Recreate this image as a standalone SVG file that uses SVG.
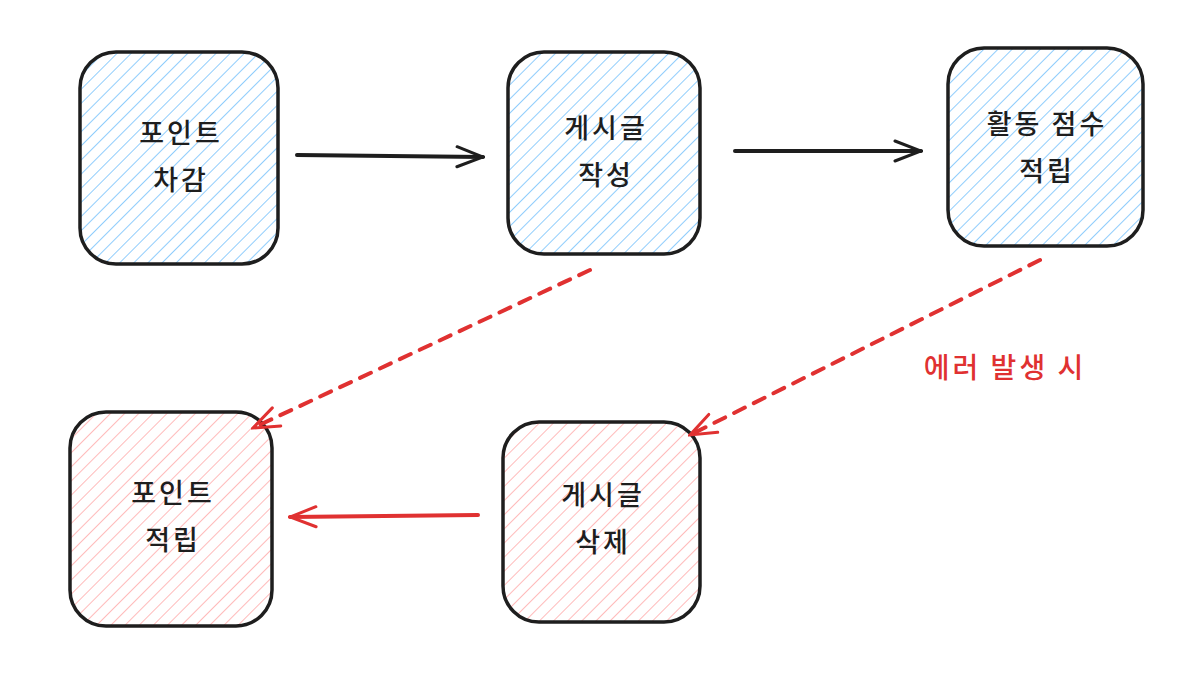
<svg xmlns="http://www.w3.org/2000/svg" width="1200" height="676" viewBox="0 0 1200 676">
<defs>
<pattern id="hb" width="10" height="10" patternUnits="userSpaceOnUse" patternTransform="rotate(45)"><line x1="0" y1="0" x2="0" y2="10" stroke="#74c0fc" stroke-width="1.6"/></pattern>
<pattern id="hr" width="10" height="10" patternUnits="userSpaceOnUse" patternTransform="rotate(45)"><line x1="0" y1="0" x2="0" y2="10" stroke="#ffa8a8" stroke-width="1.6"/></pattern>
<marker id="ak" markerWidth="30" markerHeight="24" refX="28" refY="12" orient="auto" markerUnits="userSpaceOnUse"><path d="M2,2 L28,12 L2,22" fill="none" stroke="#1e1e1e" stroke-width="3" stroke-linecap="round"/></marker>
<marker id="ar" markerWidth="30" markerHeight="24" refX="28" refY="12" orient="auto" markerUnits="userSpaceOnUse"><path d="M2,2 L28,12 L2,22" fill="none" stroke="#e03131" stroke-width="3" stroke-linecap="round"/></marker>
</defs>
<style>
.n{stroke:#1e1e1e;stroke-width:3.5}
.t{font-family:"Noto Sans CJK KR",sans-serif;font-size:27px;font-weight:500;letter-spacing:3px;fill:#1e1e1e;text-anchor:middle}
.c{fill:none;stroke-width:4;stroke-linecap:round}
</style>
<rect width="1200" height="676" fill="#fff"/>
<g id="n1"><rect x="80" y="52" width="198" height="212" rx="36" fill="url(#hb)" class="n"/><text class="t" x="181" y="143">포인트</text><text class="t" x="181" y="190">차감</text></g>
<g id="n2"><rect x="508" y="52" width="192" height="202" rx="36" fill="url(#hb)" class="n"/><text class="t" x="606" y="138">게시글</text><text class="t" x="606" y="185">작성</text></g>
<g id="n3"><rect x="948" y="48" width="195" height="198" rx="36" fill="url(#hb)" class="n"/><text class="t" x="1047" y="134">활동 점수</text><text class="t" x="1047" y="181">적립</text></g>
<g id="n4"><rect x="70" y="412" width="202" height="214" rx="36" fill="url(#hr)" class="n"/><text class="t" x="173" y="503">포인트</text><text class="t" x="173" y="550">적립</text></g>
<g id="n5"><rect x="503" y="422" width="197" height="200" rx="36" fill="url(#hr)" class="n"/><text class="t" x="603" y="505">게시글</text><text class="t" x="603" y="552">삭제</text></g>
<g id="connectors">
<line class="c" x1="297" y1="155" x2="483" y2="157" stroke="#1e1e1e" marker-end="url(#ak)"/>
<line class="c" x1="735" y1="151" x2="921" y2="151" stroke="#1e1e1e" marker-end="url(#ak)"/>
<line class="c" x1="590" y1="270" x2="253" y2="428" stroke="#e03131" stroke-width="3" stroke-dasharray="12 10" marker-end="url(#ar)"/>
<line class="c" x1="1040" y1="260" x2="690" y2="435" stroke="#e03131" stroke-width="3" stroke-dasharray="12 10" marker-end="url(#ar)"/>
<line class="c" x1="478" y1="515" x2="290" y2="517" stroke="#e03131" marker-end="url(#ar)"/>
<text x="1005" y="378" style="font-family:'Noto Sans CJK KR',sans-serif;font-size:28px;font-weight:500;letter-spacing:3px;fill:#e03131;text-anchor:middle">에러 발생 시</text>
</g>
</svg>
